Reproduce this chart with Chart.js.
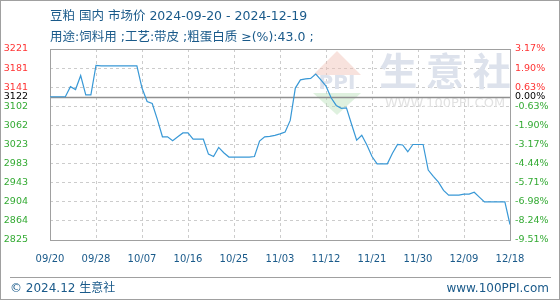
<!DOCTYPE html>
<html lang="zh">
<head>
    <meta charset="UTF-8">
    <title>豆粕 国内 市场价</title>
    <script src="https://cdn.jsdelivr.net/npm/chart.js"></script>
    <style>
        body { margin: 0; background: #fff; }
        #wrap { position: relative; width: 560px; height: 300px; font-family: "DejaVu Sans", "Noto Sans CJK SC", sans-serif; color: #1a5a8a; }
        #wrap canvas { position: absolute; left: 0; top: 0; }
        .txt { position: absolute; white-space: nowrap; font-size: 12.5px; line-height: 16px; }
        #frame { position: absolute; left: 0; top: 0; width: 560px; height: 300px; box-sizing: border-box; border: 1px solid #a0a0a0; pointer-events: none; }
        #footline { position: absolute; left: 10px; top: 277px; width: 541px; height: 1px; background: #a0a0a0; }
    </style>
</head>
<body>
<div id="wrap">
    <canvas id="chart" width="560" height="300"></canvas>
    <div class="txt" style="left:50px; top:8px;">豆粕 国内 市场价 2024-09-20 - 2024-12-19</div>
    <div class="txt" style="left:50px; top:29px;">用途:饲料用 ;工艺:带皮 ;粗蛋白质 ≥(%):43.0 ;</div>
    <div id="footline"></div>
    <div class="txt" style="left:10px; top:280px; font-size:12px;">© 2024.12 生意社</div>
    <div class="txt" style="right:11px; top:280px; font-size:12px;">www.100PPI.com</div>
    <div id="frame"></div>
</div>

<script>
    // x tick labels (one every 9 days)
    const xTickLabels = ['09/20', '09/28', '10/07', '10/16', '10/25', '11/03', '11/12', '11/21', '11/30', '12/09', '12/18'];

    // daily price, 09/20 .. 12/19 (yuan/ton)
    const prices = [
        3122, 3122, 3122, 3122, 3143, 3137, 3166, 3126, 3126, 3187,
        3186, 3186, 3186, 3186, 3186, 3186, 3186, 3186, 3140, 3112,
        3108, 3075, 3039, 3039, 3031, 3039, 3047, 3047, 3034, 3034,
        3034, 3003, 2998, 3017, 3006, 2997, 2997, 2997, 2997, 2997,
        2998, 3030, 3039, 3040, 3042, 3045, 3049, 3073, 3140, 3157,
        3159, 3160, 3169, 3157, 3144, 3120, 3104, 3098, 3099, 3065,
        3032, 3042, 3022, 2998, 2983, 2983, 2983, 3005, 3023, 3022,
        3008, 3023, 3023, 3023, 2970, 2957, 2945, 2928, 2918, 2918,
        2918, 2920, 2920, 2924, 2914, 2904, 2904, 2904, 2904, 2904,
        2857
    ];

    // y axis ticks and the base price (0.00%)
    const yTicks = [2825, 2864.6, 2904.2, 2943.8, 2983.4, 3023, 3062.6, 3102.2, 3141.8, 3181.4, 3221];
    const basePrice = 3122;

    const RED = '#ff3333', GREEN = '#33aa33', BLACK = '#000';
    const tickColor = (ctx) => {
        const v = ctx.tick.value;
        if (v === basePrice) return BLACK;
        return v > basePrice ? RED : GREEN;
    };
    const allTicks = () => yTicks.concat([basePrice]).sort((a, b) => a - b).map(v => ({ value: v }));

    // base line, plot frame and faint watermark
    const decor = {
        id: 'decor',
        beforeDatasetsDraw(chart) {
            const { ctx, chartArea: a, scales } = chart;
            ctx.save();
            // watermark logo
            ctx.fillStyle = 'rgba(240,190,180,0.45)';
            ctx.beginPath(); ctx.moveTo(313, 75); ctx.lineTo(337, 51); ctx.lineTo(361, 75); ctx.closePath(); ctx.fill();
            ctx.fillStyle = 'rgba(185,225,185,0.45)';
            ctx.beginPath(); ctx.moveTo(313, 93); ctx.lineTo(337, 115); ctx.lineTo(361, 93); ctx.closePath(); ctx.fill();
            ctx.fillStyle = '#dde2ec';
            ctx.textAlign = 'center'; ctx.textBaseline = 'middle';
            ctx.font = 'bold 20px "DejaVu Sans"';
            ctx.fillText('PPI', 337, 84);
            ctx.font = 'bold 38px "Noto Sans CJK SC"';
            ctx.fillText('生 意 社', 445, 71);
            ctx.fillStyle = '#e2e2e2';
            ctx.font = '13px "DejaVu Sans"';
            ctx.fillText('WWW.100PPI.COM', 445, 104);
            // base price line
            const y = Math.round(scales.y.getPixelForValue(basePrice)) + 0.5;
            ctx.strokeStyle = '#909090';
            ctx.lineWidth = 1.5;
            ctx.beginPath(); ctx.moveTo(a.left, y); ctx.lineTo(a.right, y); ctx.stroke();
            // frame
            ctx.strokeStyle = '#a0a0a0';
            ctx.lineWidth = 1;
            ctx.strokeRect(Math.round(a.left) + 0.5, Math.round(a.top) + 0.5, Math.round(a.right - a.left), Math.round(a.bottom - a.top));
            ctx.restore();
        }
    };

    new Chart(document.getElementById('chart'), {
        type: 'line',
        data: {
            datasets: [{
                data: prices.map((p, i) => ({ x: i, y: p })),
                borderColor: '#3898d6',
                borderWidth: 1.2,
                pointRadius: 0,
                tension: 0,
                fill: false
            }]
        },
        options: {
            responsive: false,
            animation: false,
            layout: { padding: { top: 49, bottom: 35, left: 0, right: 0 } },
            plugins: { legend: { display: false }, tooltip: { enabled: false } },
            scales: {
                x: {
                    type: 'linear',
                    min: 0,
                    max: prices.length - 1,
                    afterBuildTicks: (s) => { s.ticks = xTickLabels.map((_, k) => ({ value: k * 9 })); },
                    afterFit: (s) => { s.height = 25; },
                    grid: { color: '#cccccc', drawTicks: false },
                    border: { display: false, dash: [3, 3] },
                    ticks: {
                        autoSkip: false,
                        maxRotation: 0,
                        padding: 13,
                        color: '#1a5a8a',
                        font: { family: 'DejaVu Sans', size: 10 },
                        callback: (v, i) => xTickLabels[i]
                    }
                },
                y: {
                    position: 'left',
                    min: 2825,
                    max: 3221,
                    afterBuildTicks: (s) => { s.ticks = allTicks(); },
                    afterFit: (s) => { s.width = 50; },
                    grid: {
                        color: (ctx) => ctx.tick && ctx.tick.value === basePrice ? 'rgba(0,0,0,0)' : '#cccccc',
                        drawTicks: false
                    },
                    border: { display: false, dash: [3, 3] },
                    ticks: {
                        autoSkip: false,
                        padding: 22,
                        color: tickColor,
                        font: { family: 'DejaVu Sans', size: 9.5 },
                        callback: (v) => String(Math.floor(v))
                    }
                },
                y2: {
                    position: 'right',
                    min: 2825,
                    max: 3221,
                    afterBuildTicks: (s) => { s.ticks = allTicks(); },
                    afterFit: (s) => { s.width = 50; },
                    grid: { drawOnChartArea: false, drawTicks: false },
                    border: { display: false },
                    ticks: {
                        autoSkip: false,
                        padding: 5,
                        color: tickColor,
                        font: { family: 'DejaVu Sans', size: 9.5 },
                        callback: (v) => ((v / basePrice - 1) * 100).toFixed(2) + '%'
                    }
                }
            }
        },
        plugins: [decor]
    });
</script>
</body>
</html>
